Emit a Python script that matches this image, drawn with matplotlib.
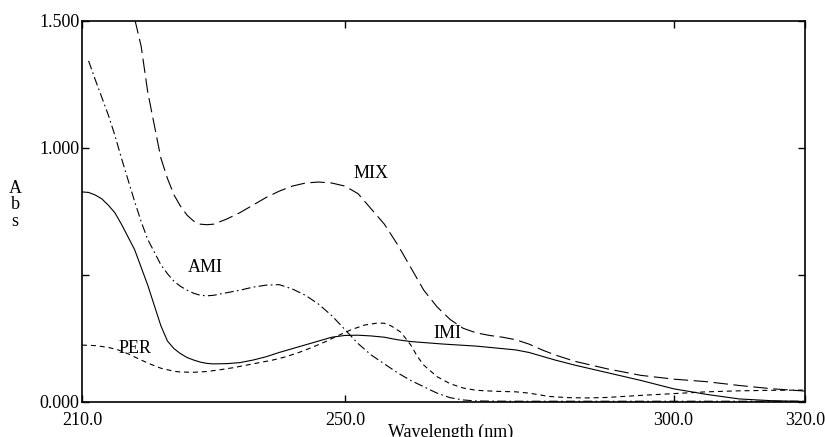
import matplotlib
matplotlib.use('Agg')
import matplotlib.pyplot as plt

plt.rcParams['font.family'] = ['Liberation Serif', 'DejaVu Serif']

# spectra (wavelength nm, absorbance)
imi_wl = [210, 211, 212, 213, 214, 215, 216, 217, 218, 219, 220, 221, 222, 223, 224, 225, 226, 227, 228, 229,
          230, 232, 234, 236, 238, 240, 242, 244, 246, 248, 250, 252, 254, 256, 258, 260, 265, 270, 274, 276,
          278, 280, 282, 285, 290, 295, 300, 305, 310, 315, 320]
imi_abs = [0.827, 0.825, 0.815, 0.80, 0.775, 0.745, 0.70, 0.65, 0.60, 0.53, 0.46, 0.38, 0.30, 0.24, 0.21, 0.19,
           0.175, 0.165, 0.157, 0.152, 0.150, 0.151, 0.155, 0.165, 0.178, 0.195, 0.21, 0.225, 0.24, 0.255, 0.262,
           0.263, 0.26, 0.255, 0.245, 0.238, 0.228, 0.22, 0.21, 0.205, 0.195, 0.18, 0.165, 0.145, 0.115, 0.085,
           0.052, 0.03, 0.012, 0.005, 0.002]

mix_wl = [217, 218, 219, 220, 221, 222, 223, 224, 225, 226, 227, 228, 229, 230, 232, 234, 236, 238, 240, 242,
          244, 246, 248, 250, 252, 254, 256, 258, 260, 262, 264, 266, 268, 270, 272, 274, 276, 278, 280, 282,
          285, 290, 295, 300, 305, 310, 315, 320]
mix_abs = [1.58, 1.51, 1.40, 1.22, 1.09, 0.96, 0.88, 0.815, 0.77, 0.735, 0.712, 0.70, 0.698, 0.70, 0.72, 0.745,
           0.775, 0.805, 0.83, 0.85, 0.862, 0.866, 0.862, 0.85, 0.82, 0.76, 0.70, 0.62, 0.53, 0.44, 0.375, 0.325,
           0.29, 0.272, 0.262, 0.255, 0.245, 0.228, 0.205, 0.185, 0.16, 0.13, 0.105, 0.09, 0.08, 0.065, 0.052,
           0.043]

ami_wl = [211, 212, 213, 214, 215, 216, 217, 218, 219, 220, 221, 222, 223, 224, 225, 226, 227, 228, 229, 230,
          232, 234, 236, 238, 240, 242, 244, 246, 248, 250, 252, 254, 256, 258, 260, 262, 264, 266, 268, 270,
          275, 280, 290, 300, 310, 320]
ami_abs = [1.343, 1.27, 1.20, 1.13, 1.05, 0.96, 0.875, 0.79, 0.71, 0.64, 0.59, 0.54, 0.505, 0.475, 0.455, 0.44,
           0.428, 0.42, 0.418, 0.42, 0.43, 0.44, 0.452, 0.46, 0.462, 0.445, 0.42, 0.385, 0.34, 0.285, 0.23, 0.185,
           0.15, 0.115, 0.085, 0.06, 0.035, 0.017, 0.008, 0.004, 0.003, 0.003, 0.003, 0.003, 0.003, 0.003]

per_wl = [210, 212, 214, 215.5, 217, 219, 220.7, 222, 224, 225, 227, 229, 231, 233, 235, 237, 239, 241, 243, 245,
          247, 249, 251, 253, 255, 256, 257, 258.5, 260, 261, 262, 264, 266, 268, 270, 273, 276, 278, 281, 284,
          287, 290, 295, 300, 305, 310, 315, 320]
per_abs = [0.224, 0.222, 0.215, 0.205, 0.19, 0.165, 0.146, 0.133, 0.121, 0.118, 0.117, 0.12, 0.127, 0.135, 0.145,
           0.155, 0.165, 0.178, 0.195, 0.215, 0.237, 0.262, 0.285, 0.303, 0.311, 0.31, 0.30, 0.275, 0.225, 0.18,
           0.145, 0.10, 0.072, 0.055, 0.046, 0.042, 0.04, 0.035, 0.022, 0.017, 0.016, 0.018, 0.026, 0.033, 0.04,
           0.044, 0.046, 0.047]

x_ticks = [210, 250, 300, 320]
x_labels = ['210.0', '250.0', '300.0', '320.0']
y_ticks = [0, 0.5, 1.0, 1.5]
y_labels = ['0.000', '', '1.000', '1.500']

fig = plt.figure(figsize=(8.25, 4.37), dpi=100)
ax = fig.add_axes([0.0994, 0.0801, 0.8764, 0.8719])

lw = 0.8
ax.plot(imi_wl, imi_abs, color='black', lw=lw)
ax.plot(mix_wl, mix_abs, color='black', lw=lw, dashes=(13, 5))
ax.plot(ami_wl, ami_abs, color='black', lw=lw, dashes=(8, 3, 1.5, 3))
ax.plot(per_wl, per_abs, color='black', lw=lw, dashes=(4.5, 3.5))

ax.text(253.9, 0.90, 'MIX', fontsize=13, ha='center', va='center')
ax.text(228.7, 0.53, 'AMI', fontsize=13, ha='center', va='center')
ax.text(218.0, 0.21, 'PER', fontsize=13, ha='center', va='center')
ax.text(265.6, 0.27, 'IMI', fontsize=13, ha='center', va='center')

ax.set_xlim(210, 320)
ax.set_ylim(0, 1.5)
ax.set_xticks(x_ticks)
ax.set_xticklabels(x_labels)
ax.set_yticks(y_ticks)
ax.set_yticklabels(y_labels)
ax.tick_params(direction='in', top=True, right=True, length=5, width=1, labelsize=13)
ax.tick_params(axis='x', pad=7)
ax.tick_params(axis='y', pad=2)
for s in ax.spines.values():
    s.set_linewidth(1.2)

fig.text(15 / 825, 1 - 205 / 437, 'A\nb\ns', fontsize=13, ha='center', va='center', linespacing=0.95)
fig.text(451 / 825, 1 - 432 / 437, 'Wavelength (nm)', fontsize=13, ha='center', va='center')

fig.savefig('out.png', dpi=100)
